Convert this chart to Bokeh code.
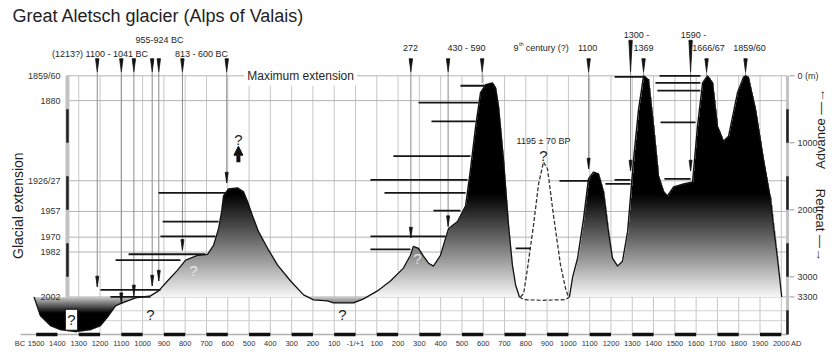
import numpy as np
from bokeh.plotting import figure
from bokeh.models import Range1d, FixedTicker, Arrow, NormalHead
from bokeh.core.properties import value
from bokeh.embed import file_html
from bokeh.resources import INLINE

SANS = "Liberation Sans"
INK = "#1e1e1e"

# ---------------- data (years: negative = BC; m = retreat behind the 1859/60 maximum) -------------
early_year = [-1510, -1480, -1433, -1386, -1315, -1245, -1198, -1160, -1127, -1104,
              -1033, -963, -925, -883, -836, -798, -742, -695, -667, -643, -629, -620,
              -597, -554, -526, -507, -484, -456, -413, -366, -305, -244, -197, -132,
              -103, -9, 38, 103, 164, 225, 258, 272, 296, 319, 343, 366, 399, 437, 479,
              517, 540, 564, 587, 611, 643, 658, 672, 695, 719, 737, 752, 770]
early_m = [3300, 3580, 3728, 3787, 3817, 3787, 3728, 3580, 3432, 3400,
           3314, 3284, 3210, 3062, 2899, 2751, 2678, 2663, 2530, 2278, 2027, 1790,
           1686, 1672, 1731, 1879, 2086, 2322, 2574, 2825, 3062, 3269, 3343, 3358,
           3388, 3388, 3328, 3210, 3062, 2870, 2678, 2544, 2574, 2692, 2796, 2840, 2678, 2278, 2175,
           1938, 1391, 754, 251, 133, 104, 178, 459, 1243, 2234, 2825, 3121, 3300]

# 9th-century advance (uncertain, dated 1195 +/- 70 BP)
mid_year = [775, 790, 808, 836, 860, 883, 902, 930, 963, 986, 1000]
mid_m = [3300, 3250, 2870, 2234, 1612, 1287, 1391, 2086, 2825, 3166, 3300]
mid_base_year = [770, 790, 880, 985, 1005]
mid_base_m = [3300, 3340, 3350, 3340, 3300]

late_year = [1005, 1020, 1043, 1071, 1094, 1118, 1141, 1165, 1188, 1207, 1231, 1254, 1278,
             1306, 1329, 1353, 1376, 1400, 1423, 1447, 1465, 1494, 1541, 1583, 1606, 1630,
             1653, 1677, 1700, 1728, 1752, 1794, 1822, 1832, 1845, 1879, 1916, 1949, 1963,
             1982, 2002]
late_m = [3300, 3000, 2722, 2130, 1538, 1435, 1464, 1731, 2322, 2722, 2840, 2766, 2322,
          1243, 503, 0, 59, 754, 1494, 1731, 1790, 1657, 1612, 1583, 754, 104,
          0, 104, 754, 976, 902, 251, 20, 0, 20, 503, 1243, 1834, 2234,
          2722, 3300]

# known extents (left scale)
ext_labels = ["1859/60", "1880", "1926/27", "1957", "1970", "1982", "2002"]
ext_m = [0, 370, 1566, 2024, 2408, 2630, 3300]

# right scale (m)
length_ticks = [0, 1000, 2000, 3000, 3300]
length_labels = ["0 (m)", "1000", "2000", "3000", "3300"]

# bottom axis
century_ticks = list(range(-1500, 2001, 100))

# dated advances: year, tip of marker (m), has an inner marker, long top marker
event_year = [-1213, -1100, -1041, -955, -924, -813, -605, 260, 435, 595, 1095, 1292, 1353, 1574, 1649, 1832]
event_tip_m = [3150, 3400, 3284, 3136, 3062, 2604, 1600, 2420, 2250, 104, 1390, 1420, 0, 1420, 0, 0]
event_inner = [True, True, True, True, True, True, True, True, True, False, True, True, False, True, False, False]
event_long = [False, False, False, False, False, False, False, False, False, False, False, True, False, True, False, False]

top_text = ["(1213?) 1100 - 1041 BC", "955-924 BC", "813 - 600 BC", "272", "430 - 590",
            "1100", "1300 -", "1369", "1590 -", "1666/67", "1859/60"]
top_year = [-1200, -921, -723, 258, 521, 1090, 1320, 1353, 1588, 1658, 1851]
# vertical placement of those labels (height above the maximum line, in m of the scale)
top_lift = [325, 533, 325, 414, 414, 414, 607, 414, 607, 414, 414]

# dated glacier positions (horizontal bars)
bar_x0 = [-925, -906, -916, -1066, -1127, -1198, -1151,
          493, 296, 357, 178, 70, 136, 366, 70, 70, 752, 958, 1174, 1217, 1217,
          1428, 1409, 1418, 1433, 1451]
bar_x1 = [-611, -643, -658, -705, -822, -916, -963,
          611, 578, 564, 540, 526, 517, 493, 423, 258, 822, 1104, 1292, 1292, 1362,
          1620, 1620, 1620, 1597, 1574]
bar_m = [1746, 2175, 2396, 2663, 2751, 3195, 3299,
         148, 399, 680, 1198, 1553, 1746, 2012, 2396, 2589, 2574, 1568, 1612, 1553, 15,
         0, 104, 222, 695, 1538]

q_year = [-550, 883, 291, -761, -963, -61]
q_m = [947, 1183, 2722, 2899, 3565, 3565]
q_color = [INK, INK, "#e4e4e4", "#e8e8e8", INK, INK]

# ---------------- figure ----------------
p = figure(width=828, height=350, x_range=Range1d(-1667.5, 2221.7), y_range=Range1d(-3905, 1124),
           y_axis_location=None, output_backend="svg", toolbar_location=None,
           min_border_left=0, min_border_right=0, min_border_top=0, min_border_bottom=10)
p.xgrid.visible = False
p.ygrid.visible = False
p.outline_line_color = None
p.background_fill_color = "white"
p.border_fill_color = "white"

ym = lambda arr: [-v for v in arr]

# grid
vgrid = [t for t in century_ticks if t >= -1300]
p.segment(x0=vgrid, y0=[0] * len(vgrid), x1=vgrid, y1=[-3860] * len(vgrid), line_color="#c6c6c6", line_width=1)
hx0, hx1 = -1357, 2029
p.segment(x0=[hx0] * len(ext_m), y0=ym(ext_m), x1=[hx1] * len(ext_m), y1=ym(ext_m), line_color="#b4b4b4", line_width=1)
p.segment(x0=[hx0, hx0], y0=[-3506, -3654], x1=[hx1, hx1], y1=[-3506, -3654], line_color="#d0d0d0", line_width=1)
p.segment(x0=[-1573], y0=[-3860], x1=[hx1], y1=[-3860], line_color="#b0b0b0", line_width=1.5)
bstart = list(range(-1500, 2000, 200))
p.segment(x0=bstart, y0=[-3860] * len(bstart), x1=[b + 100 for b in bstart], y1=[-3860] * len(bstart),
          line_color="#111111", line_width=3.5)

# scale bands with alternating black segments
band_lo = [500, 1500, 2500]
band_hi = [1000, 2000, 3000]
p.segment(x0=[-1353], y0=[0], x1=[-1353], y1=[-3350], line_color="#c2c2c2", line_width=4)
p.segment(x0=[-1353] * 3, y0=ym(band_lo), x1=[-1353] * 3, y1=ym(band_hi), line_color="#202020", line_width=2.5)
p.segment(x0=[2029], y0=[0], x1=[2029], y1=[-3860], line_color="#c2c2c2", line_width=3)
rb_lo = band_lo + [3500]
rb_hi = band_hi + [3860]
p.segment(x0=[2029] * 4, y0=ym(rb_lo), x1=[2029] * 4, y1=ym(rb_hi), line_color="#202020", line_width=2.5)

# right scale ticks and labels
p.segment(x0=[2038] * len(length_ticks), y0=ym(length_ticks), x1=[2062] * len(length_ticks),
          y1=ym(length_ticks), line_color="#9a9a9a", line_width=1)
p.text(x=[2076] * len(length_ticks), y=ym(length_ticks), text=length_labels, text_font=value(SANS),
       text_font_size="9px", text_align="left", text_baseline="middle", text_color="#333333")

# event lines
p.segment(x0=event_year, y0=[60] * len(event_year), x1=event_year, y1=ym(event_tip_m),
          line_color="#8c8c8c", line_width=1)

# glacier fill (vertical gradient) as an image built from the curve
X0, X1, Yb, Yt = -1520, 2010, -3900, 100
ncols, nrows = 1500, 540
xc = X0 + (np.arange(ncols) + 0.5) * (X1 - X0) / ncols
c = np.full(ncols, np.nan)
for yrs, ms in ((early_year, early_m), (late_year, late_m)):
    k = (xc >= yrs[0]) & (xc <= yrs[-1])
    c[k] = np.interp(xc[k], yrs, ms)
mr = -(Yb + (np.arange(nrows) + 0.5) * (Yt - Yb) / nrows)
M = mr[:, None]
C = np.where(np.isnan(c), -1e9, c)[None, :]
inside = ((C <= 3300) & (C > -1e8) & (M >= C) & (M <= 3300)) | ((C > 3300) & (M >= 3300) & (M <= C))
gray = np.where(M <= 3300, np.clip((M - 1750) / 1550, 0, 1) ** 1.05 * 247,
                np.clip(1 - (M - 3300) / 240, 0, 1) * 205)
img = np.zeros((nrows, ncols), dtype=np.uint32)
view = img.view(dtype=np.uint8).reshape((nrows, ncols, 4))
g8 = gray.astype(np.uint8)
view[:, :, 0] = g8
view[:, :, 1] = g8
view[:, :, 2] = g8
view[:, :, 3] = np.where(inside, 255, 0).astype(np.uint8)
p.image_rgba(image=[img], x=X0, y=Yb, dw=X1 - X0, dh=Yt - Yb)

p.line(early_year, ym(early_m), line_color="#111111", line_width=1.3)
p.line(late_year, ym(late_m), line_color="#111111", line_width=1.3)

# 9th-century advance: white, dashed
p.varea(x=mid_year, y1=ym(mid_m), y2=[-3320] * len(mid_year), fill_color="white")
p.line(mid_year, ym(mid_m), line_color="#333333", line_width=1.3, line_dash="4 2")
p.line(mid_base_year, ym(mid_base_m), line_color="#333333", line_width=1.2, line_dash="4 2")

# dated positions
p.segment(x0=bar_x0, y0=ym(bar_m), x1=bar_x1, y1=ym(bar_m), line_color="#151515", line_width=1.8)

# markers
top_xs, top_ys = [], []
for yr, lg in zip(event_year, event_long):
    top_xs.append([yr - 8, yr + 8, yr])
    top_ys.append([530 if lg else 255, 530 if lg else 255, 60])
p.patches(top_xs, top_ys, fill_color="#111111", line_color="#111111", line_width=0.8)
in_xs, in_ys = [], []
for yr, m, f in zip(event_year, event_tip_m, event_inner):
    if f:
        in_xs.append([yr - 7, yr + 7, yr])
        in_ys.append([-(m - 160), -(m - 160), -m])
p.patches(in_xs, in_ys, fill_color="#111111", line_color="#111111", line_width=0.8)

# texts
p.text(x=[-1611], y=[900], text=["Great Aletsch glacier (Alps of Valais)"], text_font=value(SANS),
       text_font_size="18px", text_align="left", text_baseline="middle", text_color=INK)
p.text(x=top_year, y=top_lift, text=top_text, text_font=value(SANS), text_font_size="9px",
       text_align="center", text_baseline="middle", text_color=INK)
p.text(x=[766], y=[414], text=["9"], text_font=value(SANS), text_font_size="9px",
       text_align="right", text_baseline="middle", text_color=INK)
p.text(x=[768], y=[478], text=["th"], text_font=value(SANS), text_font_size="5.5px",
       text_align="left", text_baseline="middle", text_color=INK)
p.text(x=[800], y=[414], text=["century (?)"], text_font=value(SANS), text_font_size="9px",
       text_align="left", text_baseline="middle", text_color=INK)
p.text(x=[-258], y=[0], text=["Maximum extension"], text_font=value(SANS), text_font_size="12px",
       text_align="center", text_baseline="middle", text_color=INK, background_fill_color="white",
       padding=3)
p.text(x=[883], y=[-976], text=["1195 \u00b1 70 BP"], text_font=value(SANS), text_font_size="9px",
       text_align="center", text_baseline="middle", text_color=INK)
p.text(x=[-1386] * len(ext_m), y=ym(ext_m), text=ext_labels, text_font=value(SANS),
       text_font_size="9px", text_align="right", text_baseline="middle", text_color="#333333")
p.text(x=[-1583], y=[-1938], text=["Glacial extension"], text_font=value(SANS), text_font_size="14px",
       angle=np.pi / 2, text_align="center", text_baseline="middle", text_color=INK)
p.text(x=q_year, y=ym(q_m), text=["?"] * len(q_year), text_font=value(SANS), text_font_size="15px",
       text_align="center", text_baseline="middle", text_color=q_color)
p.text(x=[-1334], y=[-3640], text=["?"], text_font=value(SANS), text_font_size="15px",
       text_align="center", text_baseline="middle", text_color=INK, background_fill_color="white",
       border_line_color="#111111", padding=2)
p.add_layout(Arrow(end=NormalHead(size=9, fill_color="#111111", line_color="#111111"),
                   x_start=-550, y_start=-1290, x_end=-550, y_end=-1050,
                   line_width=4, line_color="#111111"))

# advance / retreat direction
p.text(x=[2186], y=[-1390], text=["Advance \u2014\u2192"], angle=np.pi / 2, text_align="left",
       text_baseline="middle", text_font=value(SANS), text_font_size="13px", text_color=INK)
p.text(x=[2186], y=[-1686], text=["Retreat \u2014\u2192"], angle=-np.pi / 2, text_align="left",
       text_baseline="middle", text_font=value(SANS), text_font_size="13px", text_color=INK)

# bottom axis ("BC" / "AD" sit beside the first and last century)
bc_at, ad_at = -1576, 2070
p.xaxis.ticker = FixedTicker(ticks=[bc_at] + century_ticks + [ad_at])
ov = {bc_at: "BC", ad_at: "AD"}
for t in century_ticks:
    ov[t] = "-1/+1" if t == 0 else str(abs(t))
p.xaxis.major_label_overrides = ov
p.xaxis.axis_line_color = None
p.xaxis.major_tick_line_color = None
p.xaxis.major_tick_out = 0
p.xaxis.major_tick_in = 0
p.xaxis.minor_tick_line_color = None
p.xaxis.minor_tick_out = 0
p.xaxis.major_label_standoff = 1
p.xaxis.major_label_text_font = SANS
p.xaxis.major_label_text_font_size = "7.5px"
p.xaxis.major_label_text_color = "#333333"

open("out.html", "w").write(file_html(p, INLINE))
